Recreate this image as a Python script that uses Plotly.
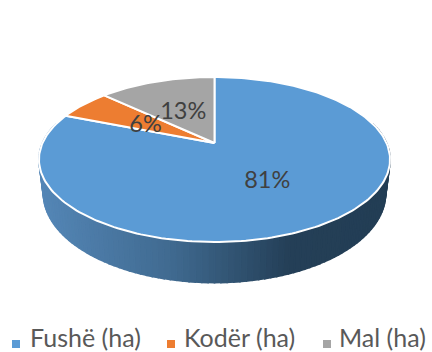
import math
import plotly.graph_objects as go

categories = ["Fushë (ha)", "Kodër (ha)", "Mal (ha)"]
shares = [81, 6, 13]
colors = ["#5B9BD5", "#ED7D31", "#A5A5A5"]
legend_swatch_x = [16, 171, 327]
legend_text_x = [30, 184, 339]

CX, CY, A, B, K = 214.5, 143.0, 172.0, 79.2, 0.2
DEPTH = 32.5
SHRINK = 0.975


def project(angle, r=1.0):
    u = r * math.sin(angle)
    v = r * math.cos(angle)
    w = 1 + K * v
    return CX + A * u / w, CY - B * v / w


def drop(angle):
    return DEPTH / (1 + K * math.cos(angle))


def arc(a0, a1, n):
    return [a0 + (a1 - a0) * i / n for i in range(n + 1)]


def wall_color(x):
    stops = [(40, (84, 134, 182)), (170, (64, 106, 144)), (290, (36, 63, 87)), (390, (35, 62, 85))]
    for (x0, c0), (x1, c1) in zip(stops, stops[1:]):
        if x <= x1:
            t = max(0, (x - x0) / (x1 - x0))
            return "rgb(%d,%d,%d)" % tuple(round(p + (q - p) * t) for p, q in zip(c0, c1))
    return "rgb(35,62,85)"


fig = go.Figure()

# Side wall, as narrow bands along the front of the rim
angles = arc(math.radians(75), math.radians(285), 120)
for a0, a1 in zip(angles, angles[1:]):
    x0, y0 = project(a0)
    x1, y1 = project(a1)
    bx0 = CX + (x0 - CX) * SHRINK
    bx1 = CX + (x1 - CX) * SHRINK
    col = wall_color((x0 + x1) / 2)
    fig.add_trace(go.Scatter(
        x=[x0, x1, bx1, bx0, x0],
        y=[y0, y1, y1 + drop(a1), y0 + drop(a0), y0],
        mode="lines", fill="toself", fillcolor=col, line=dict(color=col, width=1.6),
        hoverinfo="skip", showlegend=False))

# Top face slices
total = sum(shares)
cum = 0.0
for name, share, col in zip(categories, shares, colors):
    a0 = 2 * math.pi * cum / total
    a1 = 2 * math.pi * (cum + share) / total
    cum += share
    pts = [project(a) for a in arc(a0, a1, max(8, int(share * 3)))]
    xs = [CX] + [p[0] for p in pts] + [CX]
    ys = [CY] + [p[1] for p in pts] + [CY]
    fig.add_trace(go.Scatter(
        x=xs, y=ys, mode="lines", fill="toself", fillcolor=col,
        line=dict(color="white", width=2), hoverinfo="skip", showlegend=False))

# Percentage labels
cum = 0.0
lx, ly, lt = [], [], []
for share in shares:
    mid = 2 * math.pi * (cum + share / 2) / total
    cum += share
    x, y = project(mid, 0.5)
    lx.append(x)
    ly.append(y + 3)
    lt.append(f"{share}%")
fig.add_trace(go.Scatter(
    x=lx, y=ly, text=lt, mode="text", textposition="middle center",
    textfont=dict(family="Lato", size=23.5, color="#404040"),
    hoverinfo="skip", showlegend=False))

# Legend row
for name, col, sx, tx in zip(categories, colors, legend_swatch_x, legend_text_x):
    fig.add_trace(go.Scatter(
        x=[sx], y=[344], mode="markers",
        marker=dict(symbol="square", size=8, color=col, line=dict(width=0)),
        hoverinfo="skip", showlegend=False))
    fig.add_trace(go.Scatter(
        x=[tx], y=[340.5], mode="text", text=[name], textposition="middle right",
        textfont=dict(family="Lato", size=25, color="#595959"),
        hoverinfo="skip", showlegend=False, cliponaxis=False))

fig.update_layout(
    width=432, height=352,
    margin=dict(l=0, r=0, t=0, b=0, autoexpand=False),
    paper_bgcolor="white", plot_bgcolor="white",
    xaxis=dict(range=[0, 432], visible=False, fixedrange=True),
    yaxis=dict(range=[352, 0], visible=False, fixedrange=True),
    showlegend=False,
)
fig.write_html("out.html", config={"displayModeBar": False},
               post_script="document.body.style.margin='0';")
